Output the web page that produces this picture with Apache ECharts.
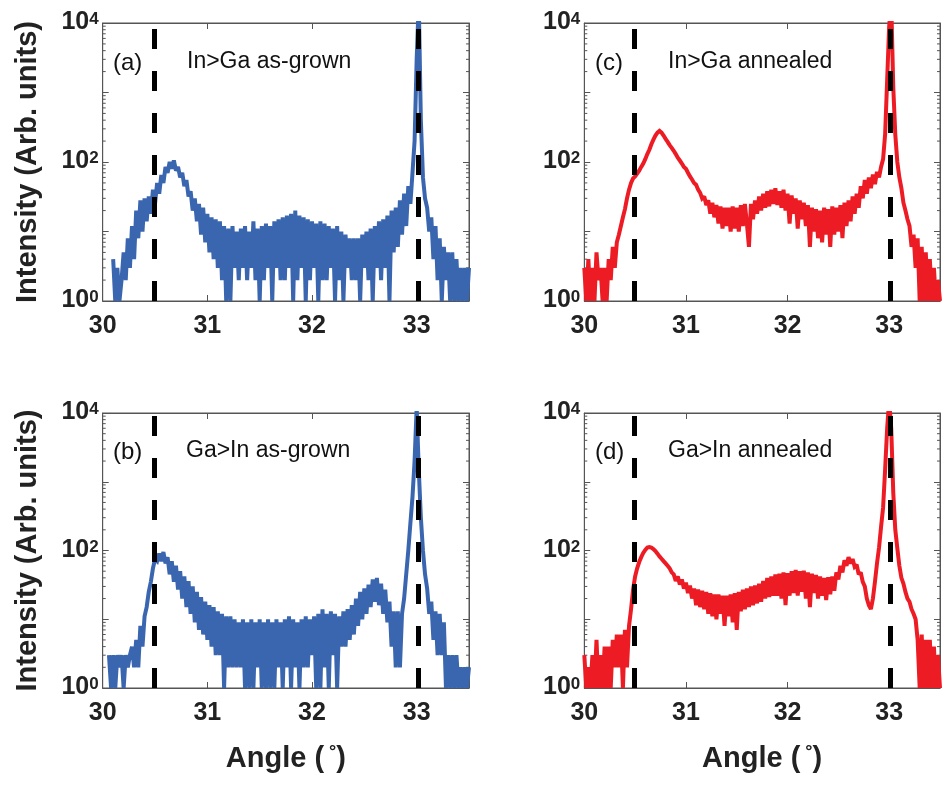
<!DOCTYPE html>
<html><head><meta charset="utf-8">
<script src="https://cdn.jsdelivr.net/npm/echarts/dist/echarts.min.js"></script>
<style>html,body{margin:0;padding:0;background:#fff}#chart{width:943px;height:786px}</style>
</head><body><div id="chart"></div><script>
// Scan angles (degrees)
const angles = [
30.00,30.02,30.04,30.06,30.08, 30.10,30.12,30.14,30.16,30.18,
30.20,30.22,30.24,30.26,30.28, 30.30,30.32,30.34,30.36,30.38,
30.40,30.42,30.44,30.46,30.48, 30.50,30.52,30.54,30.56,30.58,
30.60,30.62,30.64,30.66,30.68, 30.70,30.72,30.74,30.76,30.78,
30.80,30.82,30.84,30.86,30.88, 30.90,30.92,30.94,30.96,30.98,
31.00,31.02,31.04,31.06,31.08, 31.10,31.12,31.14,31.16,31.18,
31.20,31.22,31.24,31.26,31.28, 31.30,31.32,31.34,31.36,31.38,
31.40,31.42,31.44,31.46,31.48, 31.50,31.52,31.54,31.56,31.58,
31.60,31.62,31.64,31.66,31.68, 31.70,31.72,31.74,31.76,31.78,
31.80,31.82,31.84,31.86,31.88, 31.90,31.92,31.94,31.96,31.98,
32.00,32.02,32.04,32.06,32.08, 32.10,32.12,32.14,32.16,32.18,
32.20,32.22,32.24,32.26,32.28, 32.30,32.32,32.34,32.36,32.38,
32.40,32.42,32.44,32.46,32.48, 32.50,32.52,32.54,32.56,32.58,
32.60,32.62,32.64,32.66,32.68, 32.70,32.72,32.74,32.76,32.78,
32.80,32.82,32.84,32.86,32.88, 32.90,32.92,32.94,32.96,32.98,
33.00,33.02,33.04,33.06,33.08, 33.10,33.12,33.14,33.16,33.18,
33.20,33.22,33.24,33.26,33.28, 33.30,33.32,33.34,33.36,33.38,
33.40,33.42,33.44,33.46,33.48, 33.50
];
// (a) In>Ga as-grown
const inGaAsGrown = [
null,null,null,null,null, 4,1,3,1,2,
5,2,8,3,12, 4,20,8,28,10,
30,14,32,18,40, 25,50,35,65,50,
85,70,100,80,105, 75,85,60,70,45,
55,32,38,20,30, 14,25,9,22,7,
18,5,16,4,15, 3,14,2,12,1,
11,1,12,3,10, 2,11,3,12,2,
10,3,14,2,11, 1,12,2,13,3,
12,1,14,3,15, 2,16,2,17,3,
18,1,20,2,17, 3,16,1,15,2,
14,3,13,1,14, 2,13,2,12,3,
11,1,12,2,10, 1,9,3,8,2,
8,2,8,1,9, 3,10,2,11,1,
12,3,14,2,15, 3,17,1,20,5,
22,6,28,9,35, 12,45,25,70,200,
3000,20000,400,60,30, 22,10,16,4,12,
2,8,1,6,2, 5,1,5,1,4,
1,3,1,3,1, 3
];
// (b) Ga>In as-grown
const gaInAsGrown = [
null,null,null,3,1, 3,1,3,2,3,
1,3,2,3,4, 2,5,2,8,4,
11,15,25,35,55, 75,70,90,70,95,
65,80,45,70,35, 60,27,50,20,42,
15,36,12,30,9, 25,7,21,6,18,
5,16,4,15,3, 13,3,12,1,11,
2,11,2,10,2, 9,2,10,1,9,
1,10,1,9,2, 10,1,9,1,10,
1,9,1,10,2, 9,1,10,2,11,
1,10,2,9,1, 10,2,11,2,10,
3,11,1,12,1, 14,2,12,1,13,
3,12,1,11,4, 13,4,14,5,16,
6,20,8,25,10, 28,12,32,15,38,
18,40,16,33,12, 27,9,18,4,13,
2,13,2,12,20, 45,100,250,600,2000,
12000,1500,300,100,45, 28,12,18,5,13,
3,12,3,9,1, 3,1,3,1,3,
1,2,1,2,1, 2
];
// (c) In>Ga annealed
const inGaAnnealed = [
3,1,4,1,3, 1,5,2,3,1,
3,1,4,2,6, 3,7,9,12,16,
21,30,40,50,58, 62,68,75,85,95,
110,130,150,180,210, 240,265,280,265,240,
215,195,175,160,145, 130,115,105,95,85,
80,70,62,56,50, 47,40,36,30,32,
24,28,18,26,16, 24,13,23,11,22,
12,22,10,23,11, 22,10,24,12,25,
13,6,25,15,28, 18,32,20,35,22,
38,23,40,25,42, 24,38,22,40,20,
35,13,33,18,30, 11,28,15,26,12,
24,6,22,10,21, 8,20,7,22,9,
21,6,23,9,22, 10,24,8,26,12,
28,14,32,18,35, 22,45,30,55,35,
60,42,66,48,72, 60,85,110,250,1500,
9000,20000,1200,250,100, 60,42,26,20,15,
12,6,9,3,8, 1,6,1,5,1,
4,1,3,1,2, 1
];
// (d) Ga>In annealed
const gaInAnnealed = [
3,1,2,1,3, 1,5,1,3,1,
4,1,4,1,5, 2,6,2,6,1,
7,2,8,14,27, 42,55,68,80,92,
102,110,112,110,105, 98,90,82,76,70,
65,60,55,48,45, 36,42,32,38,28,
34,24,31,20,28, 16,27,15,26,14,
25,12,24,11,23, 10,23,12,22,8,
22,11,23,9,24, 7,25,13,27,14,
28,15,30,16,31, 17,33,18,36,20,
40,21,42,22,45, 22,46,20,48,16,
47,22,50,24,52, 22,50,25,51,20,
48,15,46,24,44, 20,42,22,40,19,
41,23,42,26,48, 38,60,48,72,60,
80,65,75,58,62, 45,48,35,30,20,
16,14,20,35,65, 110,220,420,1500,6000,
15000,6000,700,200,108, 60,40,33,25,20,
18,14,12,10,5, 1,6,1,5,1,
5,1,4,1,3, 1
];
const panelLetters = ['(a)', '(b)', '(c)', '(d)'];
const panelTitles = ['In>Ga as-grown', 'Ga>In as-grown', 'In>Ga annealed', 'Ga>In annealed'];
const referenceAngles = [30.49, 33.015];
const xTickLabels = [30, 31, 32, 33];
const yLabelExponents = [0, 2, 4];
const minorTickValues = [2,3,4,5,6,7,8,9,20,30,40,50,60,70,80,90,200,300,400,500,600,700,800,900,2000,3000,4000,5000,6000,7000,8000,9000];
const yAxisTitle = 'Intensity (Arb. units)';

const BLUE = '#3a66b0', RED = '#ed1c24', AX = '#555';
const FONT = '"Liberation Sans", Arial, sans-serif';
const panels = [
  {data: inGaAsGrown, color: BLUE, left: 102.7, top: 23, width: 366.3, height: 278, yName: true, xName: false, tx: 113, ty: 63, ttx: 187},
  {data: gaInAsGrown, color: BLUE, left: 102.7, top: 413, width: 366.3, height: 275, yName: true, xName: true, tx: 113, ty: 452, ttx: 186},
  {data: inGaAnnealed, color: RED, left: 584.3, top: 23, width: 367.5, height: 278, yName: false, xName: false, tx: 595, ty: 63, ttx: 668},
  {data: gaInAnnealed, color: RED, left: 584.3, top: 413, width: 367.5, height: 275, yName: false, xName: true, tx: 595, ty: 452, ttx: 668}
];

const grids = [], xAxes = [], yAxes = [], series = [], graphics = [];
panels.forEach((p, g) => {
  grids.push({left: p.left, top: p.top, width: p.width, height: p.height, show: true, borderColor: AX, borderWidth: 1, backgroundColor: 'transparent'});
  const xBase = {type: 'value', gridIndex: g, min: 30, max: 33.5, interval: 1,
    axisLine: {show: true, lineStyle: {color: AX, width: 1}},
    axisTick: {show: true, inside: true, length: 6, lineStyle: {color: AX}},
    splitLine: {show: false}};
  xAxes.push(Object.assign({}, xBase, {position: 'bottom',
    axisLabel: {show: true, margin: 13, fontSize: 25, fontWeight: 'bold', color: '#222', fontFamily: FONT,
      formatter: v => xTickLabels.includes(v) ? String(v) : ''},
    name: p.xName ? '{t|Angle (}{s| °}{t|)}' : '', nameLocation: 'middle', nameGap: 55,
    nameTextStyle: {rich: {
      t: {fontSize: 29, fontWeight: 'bold', color: '#222', fontFamily: FONT, lineHeight: 30, padding: [10, 0, 0, 0], verticalAlign: 'bottom'},
      s: {fontSize: 18, fontWeight: 'bold', color: '#222', fontFamily: FONT, lineHeight: 18, verticalAlign: 'top'}}}
  }));
  const yBase = {type: 'log', logBase: 10, gridIndex: g, min: 1, max: 10000,
    axisLine: {show: true, lineStyle: {color: AX, width: 1}},
    axisTick: {show: true, inside: true, length: 6, lineStyle: {color: AX}},
    splitLine: {show: false}, minorTick: {show: false}};
  yAxes.push(Object.assign({}, yBase, {position: 'left',
    axisLabel: {show: true, margin: 4,
      formatter: v => { const e = Math.round(Math.log10(v)); return yLabelExponents.includes(e) ? '{b|10}{s|' + e + '}' : ''; },
      rich: {
        b: {fontSize: 25, fontWeight: 'bold', color: '#222', fontFamily: FONT, lineHeight: 24, padding: [10, 0, 0, 0], verticalAlign: 'bottom'},
        s: {fontSize: 17, fontWeight: 'bold', color: '#222', fontFamily: FONT, lineHeight: 16, verticalAlign: 'top'}}},
    name: p.yName ? yAxisTitle : '', nameLocation: 'middle', nameGap: 60,
    nameTextStyle: {fontSize: 29, fontWeight: 'bold', color: '#222', fontFamily: FONT}
  }));
  yAxes.push(Object.assign({}, yBase, {position: 'right', axisLabel: {show: false}}));
  series.push({
    type: 'line', xAxisIndex: g, yAxisIndex: 2 * g,
    data: angles.map((a, i) => [a, p.data[i]]),
    showSymbol: false, symbol: 'none', connectNulls: false, clip: true, animation: false,
    lineStyle: {color: p.color, width: 4, join: 'miter', miterLimit: 2}, itemStyle: {color: p.color},
    markLine: {silent: true, symbol: ['none', 'none'], label: {show: false}, animation: false,
      lineStyle: {color: '#000', width: 5, type: [20, 22]},
      emphasis: {disabled: true},
      data: referenceAngles.map(a => [{coord: [a, 1]}, {coord: [a, 10000]}])}
  });
  series.push({
    type: 'custom', xAxisIndex: g, yAxisIndex: 2 * g, silent: true, animation: false,
    data: minorTickValues.map(v => [30, v]), encode: {x: 0, y: 1},
    renderItem: (params, api) => {
      const v = api.value(1);
      const pl = api.coord([30, v]), pr = api.coord([33.5, v]);
      return {type: 'group', children: [
        {type: 'line', shape: {x1: pl[0], y1: pl[1], x2: pl[0] + 3, y2: pl[1]}, style: {stroke: AX, lineWidth: 1}},
        {type: 'line', shape: {x1: pr[0] - 3, y1: pr[1], x2: pr[0], y2: pr[1]}, style: {stroke: AX, lineWidth: 1}}
      ]};
    }
  });
  graphics.push({type: 'text', x: p.tx, y: p.ty, z: 100,
    style: {text: panelLetters[g], fontSize: 24, fontFamily: FONT, fill: '#111', align: 'left', verticalAlign: 'middle'}});
  graphics.push({type: 'text', x: p.ttx, y: p.ty - 1, z: 100,
    style: {text: panelTitles[g], fontSize: 23, fontFamily: FONT, fill: '#111', align: 'left', verticalAlign: 'middle'}});
});
panels.forEach((p, g) => {
  xAxes.push({type: 'value', gridIndex: g, min: 30, max: 33.5, interval: 1, position: 'top',
    axisLine: {show: true, lineStyle: {color: AX}}, axisTick: {show: true, inside: true, length: 6, lineStyle: {color: AX}},
    axisLabel: {show: false}, splitLine: {show: false}});
});

const chart = echarts.init(document.getElementById('chart'), null, {renderer: 'canvas'});
chart.setOption({
  animation: false,
  backgroundColor: '#fff',
  grid: grids, xAxis: xAxes, yAxis: yAxes, series: series, graphic: graphics
});
</script></body></html>
